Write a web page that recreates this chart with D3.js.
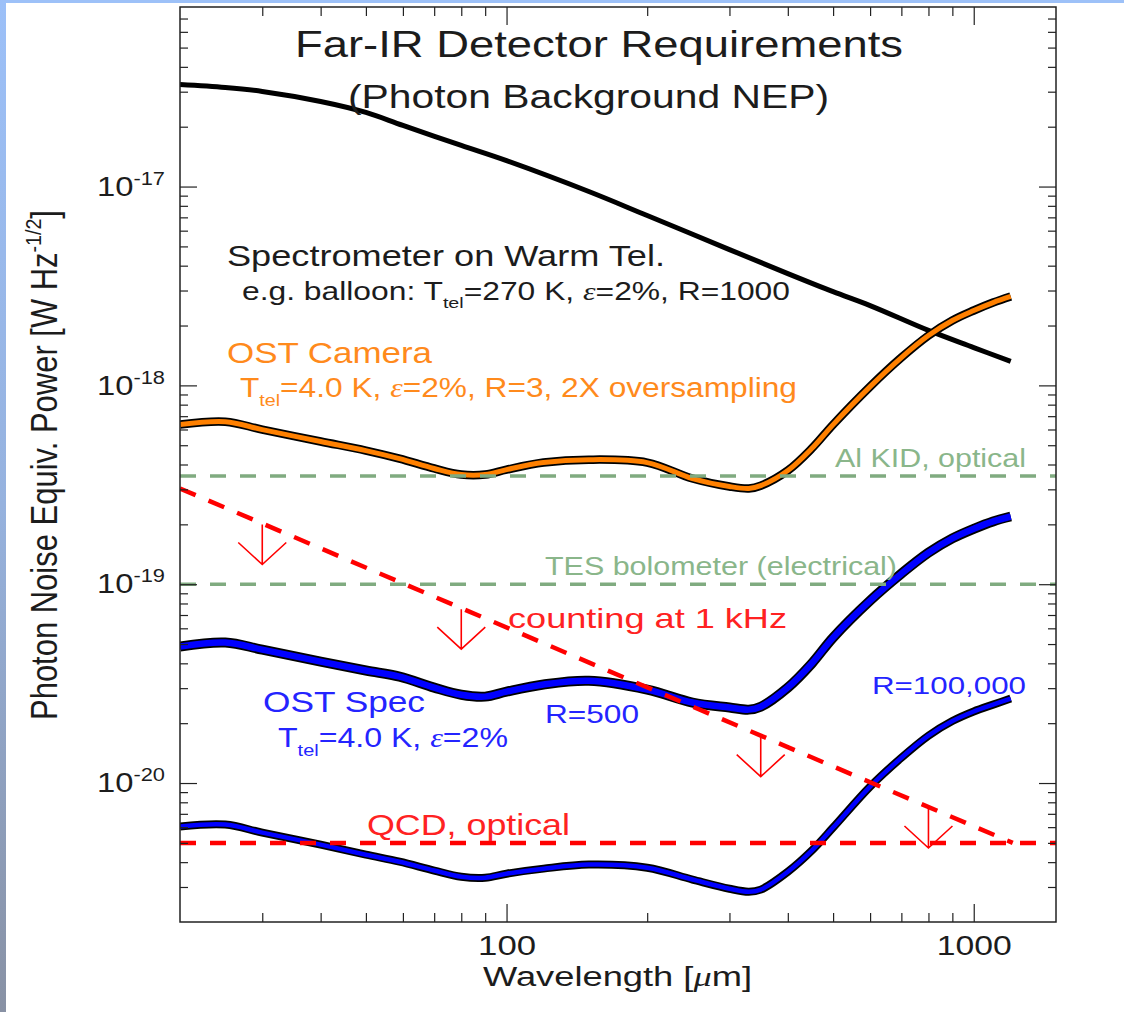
<!DOCTYPE html>
<html><head><meta charset="utf-8">
<script src="https://cdn.jsdelivr.net/npm/d3@7"></script>
<style>body{margin:0;background:#fff}svg{display:block}</style>
</head><body>
<svg id="c" width="1124" height="1012"></svg>
<script>
// ---------------- DATA ----------------
// Spectrometer on warm telescope (balloon), wavelength [um] and NEP [W Hz^-1/2]
const wlWarm  = [20, 25, 30, 40, 50, 60, 80, 100, 150, 200, 300, 400, 500, 600, 800, 1000, 1200];
const nepWarm = [3.26e-17, 3.15e-17, 3.01e-17, 2.68e-17, 2.36e-17, 2.03e-17, 1.61e-17, 1.35e-17,
                 9.44e-18, 7.15e-18, 4.82e-18, 3.65e-18, 2.96e-18, 2.52e-18, 1.89e-18, 1.55e-18, 1.32e-18];
// OST curves share one wavelength grid
const wlOST = [20, 25, 30, 40, 50, 59, 70, 80, 90, 100, 120, 150, 200, 250, 300, 330, 350,
               400, 450, 500, 600, 700, 800, 900, 1000, 1100, 1200];
const nepCamera = [6.35e-19, 6.57e-19, 5.99e-19, 5.22e-19, 4.70e-19, 4.28e-19, 3.82e-19, 3.56e-19, 3.56e-19,
                   3.77e-19, 4.09e-19, 4.23e-19, 4.09e-19, 3.40e-19, 3.10e-19, 3.03e-19, 3.13e-19,
                   3.73e-19, 4.81e-19, 6.35e-19, 9.86e-19, 1.38e-18, 1.78e-18, 2.12e-18, 2.38e-18, 2.61e-18, 2.80e-18];
const nepSpecR500 = [4.86e-20, 5.09e-20, 4.69e-20, 4.08e-20, 3.68e-20, 3.43e-20, 3.02e-20, 2.78e-20, 2.72e-20,
                     2.88e-20, 3.13e-20, 3.27e-20, 2.95e-20, 2.54e-20, 2.40e-20, 2.34e-20, 2.42e-20,
                     3.02e-20, 3.99e-20, 5.39e-20, 8.27e-20, 1.13e-19, 1.44e-19, 1.70e-19, 1.90e-19, 2.07e-19, 2.19e-19];
const nepSpecR100k = [6.04e-21, 6.18e-21, 5.63e-21, 4.90e-21, 4.36e-21, 4.02e-21, 3.63e-21, 3.38e-21, 3.34e-21,
                      3.50e-21, 3.71e-21, 3.89e-21, 3.75e-21, 3.27e-21, 2.94e-21, 2.84e-21, 2.91e-21,
                      3.58e-21, 4.57e-21, 5.97e-21, 9.59e-21, 1.34e-20, 1.73e-20, 2.05e-20, 2.29e-20, 2.48e-20, 2.66e-20];
// Detector levels
const alKidNEP = 3.5e-19;
const tesNEP = 1.0e-19;
const qcdNEP = 5.0e-21;
const countingWl = [20, 1212];
const countingNEP = [3.03e-19, 5.0e-21];
const arrowWl = [30, 80, 350, 800];
// Axes
const xDomain = [20, 1500];
const yDomain = [2e-21, 8e-17];
const xMajorTicks = [100, 1000];
const xTickLabels = ["100", "1000"];
const yMajorTicks = [1e-17, 1e-18, 1e-19, 1e-20];
const yTickExponents = ["-17", "-18", "-19", "-20"];

// ---------------- LAYOUT / STYLE ----------------
const M = {left: 180, right: 1056, top: 7, bottom: 922};
const SANS = "'Liberation Sans', Arial, Helvetica, sans-serif";
const SERIF = "'Liberation Serif', 'DejaVu Serif', serif";
const C = {text: "#1c1c1c", orange: "#ff8000", orangeText: "#ff8a1c", blue: "#0000ff", blueText: "#2424ff",
           red: "#ff0000", redText: "#ff2222", green: "#80ab80", greenText: "#8ab68a", axis: "#222"};

const svg = d3.select("#c");
// slide background strips
const defs = svg.append("defs");
const grad = defs.append("linearGradient").attr("id", "lg").attr("x1", 0).attr("y1", 0).attr("x2", 0).attr("y2", 1);
grad.append("stop").attr("offset", 0).attr("stop-color", "#9cc0f8");
grad.append("stop").attr("offset", 0.5).attr("stop-color", "#96b2de");
grad.append("stop").attr("offset", 1).attr("stop-color", "#8891a4");
svg.append("rect").attr("width", 1124).attr("height", 1012).attr("fill", "#fff");
svg.append("rect").attr("x", 0).attr("y", 0).attr("width", 1124).attr("height", 3).attr("fill", "#9dc1f8");
svg.append("rect").attr("x", 0).attr("y", 0).attr("width", 6).attr("height", 1012).attr("fill", "url(#lg)");

const x = d3.scaleLog().domain(xDomain).range([M.left, M.right]);
const y = d3.scaleLog().domain(yDomain).range([M.bottom, M.top]);

const plot = svg.append("g");
plot.append("clipPath").attr("id", "clip").append("rect")
  .attr("x", M.left).attr("y", M.top).attr("width", M.right - M.left).attr("height", M.bottom - M.top);
const g = plot.append("g").attr("clip-path", "url(#clip)");

const line = d3.line().x(d => x(d[0])).y(d => y(d[1])).curve(d3.curveCatmullRom.alpha(0.5));
const pairs = (xs, ys) => xs.map((v, i) => [v, ys[i]]);

// warm telescope curve
g.append("path").attr("d", line(pairs(wlWarm, nepWarm)))
  .attr("fill", "none").attr("stroke", "#000").attr("stroke-width", 5).attr("stroke-linejoin", "round");
// outlined curves
function outlined(data, color, outer, inner) {
  const d = line(data);
  g.append("path").attr("d", d).attr("fill", "none").attr("stroke", "#000").attr("stroke-width", outer).attr("stroke-linejoin", "round");
  g.append("path").attr("d", d).attr("fill", "none").attr("stroke", color).attr("stroke-width", inner).attr("stroke-linejoin", "round");
}
outlined(pairs(wlOST, nepCamera), C.orange, 8.5, 5);
outlined(pairs(wlOST, nepSpecR500), C.blue, 10, 6.5);
outlined(pairs(wlOST, nepSpecR100k), C.blue, 8, 4.5);

// horizontal detector levels
function hline(v, color, w) {
  g.append("line").attr("x1", M.left).attr("x2", M.right).attr("y1", y(v)).attr("y2", y(v))
    .attr("stroke", color).attr("stroke-width", w).attr("stroke-dasharray", "16,14");
}
hline(alKidNEP, C.green, 3.5);
hline(tesNEP, C.green, 3.5);
hline(qcdNEP, C.red, 4.5);
// counting line
g.append("line")
  .attr("x1", x(countingWl[0])).attr("y1", y(countingNEP[0]))
  .attr("x2", x(countingWl[1])).attr("y2", y(countingNEP[1]))
  .attr("stroke", C.red).attr("stroke-width", 4.5).attr("stroke-dasharray", "17,14");
// arrows under the counting line
const countY = d3.scaleLinear().domain([x(countingWl[0]), x(countingWl[1])]).range([y(countingNEP[0]), y(countingNEP[1])]);
arrowWl.forEach(wl => {
  const x0 = x(wl), y0 = countY(x0) + 1, tip = y0 + 40;
  g.append("path")
    .attr("d", `M${x0},${y0}L${x0},${tip}M${x0 - 24},${tip - 22}L${x0},${tip}L${x0 + 24},${tip - 22}`)
    .attr("fill", "none").attr("stroke", C.red).attr("stroke-width", 1.6);
});

// ---------------- AXES ----------------
const yTicksAll = y.ticks().filter(v => v >= yDomain[0] * 1.0001 && v <= yDomain[1] * 0.9999);
const yMinor = yTicksAll.filter(v => !yMajorTicks.some(m => Math.abs(v / m - 1) < 1e-6));
const xTicksAll = x.ticks().filter(v => v > xDomain[0] && v < xDomain[1]);
const xMinor = xTicksAll.filter(v => !xMajorTicks.includes(v));

function addAxis(axis, tx, ty) {
  const a = svg.append("g").attr("transform", `translate(${tx},${ty})`).call(axis);
  a.select(".domain").remove();
  a.selectAll(".tick line").attr("stroke", C.axis).attr("stroke-width", 1.2);
  return a;
}
// minor ticks
addAxis(d3.axisLeft(y).tickValues(yMinor).tickSizeInner(-8).tickSizeOuter(0).tickFormat(""), M.left, 0);
addAxis(d3.axisRight(y).tickValues(yMinor).tickSizeInner(-8).tickSizeOuter(0).tickFormat(""), M.right, 0);
addAxis(d3.axisBottom(x).tickValues(xMinor).tickSizeInner(-9).tickSizeOuter(0).tickFormat(""), 0, M.bottom);
addAxis(d3.axisTop(x).tickValues(xMinor).tickSizeInner(-9).tickSizeOuter(0).tickFormat(""), 0, M.top);
// major ticks
const yl = addAxis(d3.axisLeft(y).tickValues(yMajorTicks).tickSizeInner(-17).tickSizeOuter(0).tickPadding(15), M.left, 0);
addAxis(d3.axisRight(y).tickValues(yMajorTicks).tickSizeInner(-17).tickSizeOuter(0).tickFormat(""), M.right, 0);
const xl = addAxis(d3.axisBottom(x).tickValues(xMajorTicks).tickSizeInner(-18).tickSizeOuter(0).tickPadding(14)
  .tickFormat((d, i) => xTickLabels[i]), 0, M.bottom);
addAxis(d3.axisTop(x).tickValues(xMajorTicks).tickSizeInner(-18).tickSizeOuter(0).tickFormat(""), 0, M.top);

yl.attr("font-size", 27).attr("font-family", SANS);
yl.selectAll(".tick text").each(function (d, i) {
  const t = d3.select(this).text(null).attr("fill", C.text)
    .attr("textLength", 68).attr("lengthAdjust", "spacingAndGlyphs");
  t.append("tspan").text("10");
  t.append("tspan").attr("dy", -11).attr("font-size", 18).text(yTickExponents[i]);
});
xl.attr("font-size", 27).attr("font-family", SANS);
xl.selectAll(".tick text").attr("fill", C.text)
  .attr("textLength", (d, i) => [58, 75][i]).attr("lengthAdjust", "spacingAndGlyphs");

// frame
svg.append("rect").attr("x", M.left).attr("y", M.top).attr("width", M.right - M.left).attr("height", M.bottom - M.top)
  .attr("fill", "none").attr("stroke", C.axis).attr("stroke-width", 1.5);

// ---------------- TEXT ----------------
const labels = [
  {x: 295, y: 57, size: 37, w: 608, color: C.text, parts: [["Far-IR Detector Requirements"]]},
  {x: 348, y: 108, size: 33, w: 481, color: C.text, parts: [["(Photon Background NEP)"]]},
  {x: 227, y: 266, size: 30, w: 438, color: C.text, parts: [["Spectrometer on Warm Tel."]]},
  {x: 242, y: 300, size: 25, w: 548, color: C.text,
   parts: [["e.g. balloon: T"], ["tel", "sub"], ["=270 K, "], ["ε", "it"], ["=2%, R=1000"]]},
  {x: 227, y: 363, size: 30, w: 205, color: C.orangeText, parts: [["OST Camera"]]},
  {x: 240, y: 397, size: 27, w: 557, color: C.orangeText,
   parts: [["T"], ["tel", "sub"], ["=4.0 K, "], ["ε", "it"], ["=2%, R=3, 2X oversampling"]]},
  {x: 835, y: 467, size: 25, w: 191, color: C.greenText, parts: [["Al KID, optical"]]},
  {x: 545, y: 575, size: 25, w: 352, color: C.greenText, parts: [["TES bolometer (electrical)"]]},
  {x: 508, y: 628, size: 28, w: 279, color: C.redText, parts: [["counting at 1 kHz"]]},
  {x: 263, y: 712, size: 30, w: 162, color: C.blueText, parts: [["OST Spec"]]},
  {x: 278, y: 747, size: 27, w: 230, color: C.blueText,
   parts: [["T"], ["tel", "sub"], ["=4.0 K, "], ["ε", "it"], ["=2%"]]},
  {x: 545, y: 723, size: 25, w: 94, color: C.blueText, parts: [["R=500"]]},
  {x: 872, y: 694, size: 24, w: 154, color: C.blueText, parts: [["R=100,000"]]},
  {x: 367, y: 835, size: 30, w: 203, color: C.redText, parts: [["QCD, optical"]]},
  {x: 483, y: 986, size: 27, w: 269, color: C.text, parts: [["Wavelength ["], ["μ", "it"], ["m]"]]},
];
function drawLabel(L) {
  const t = svg.append("text").attr("x", L.x).attr("y", L.y).attr("font-size", L.size)
    .attr("fill", L.color).attr("font-family", SANS);
  let shift = 0;
  L.parts.forEach(([s, kind]) => {
    const sp = t.append("tspan").text(s);
    let target = 0;
    if (kind === "sub") { sp.attr("font-size", L.size * 0.62); target = L.size * 0.32; }
    if (kind === "sup") { sp.attr("font-size", L.size * 0.62); target = -L.size * 0.42; }
    if (kind === "it") { sp.attr("font-family", SERIF).attr("font-style", "italic"); }
    if (target !== shift) { sp.attr("dy", target - shift); shift = target; }
  });
  if (L.w) t.attr("textLength", L.w).attr("lengthAdjust", "spacingAndGlyphs");
  return t;
}
labels.forEach(drawLabel);

// y-axis title (rotated; glyphs widened like the rest of the figure)
const yt = svg.append("g").attr("transform", "translate(57,465) scale(1.2,1) rotate(-90)")
  .append("text").attr("text-anchor", "middle").attr("font-size", 30).attr("font-family", SANS).attr("fill", C.text)
  .attr("textLength", 510).attr("lengthAdjust", "spacingAndGlyphs");
yt.append("tspan").text("Photon Noise Equiv. Power [W Hz");
yt.append("tspan").attr("font-size", 19).attr("dy", -13).text("-1/2");
yt.append("tspan").attr("dy", 13).text("]");
</script>
</body></html>
